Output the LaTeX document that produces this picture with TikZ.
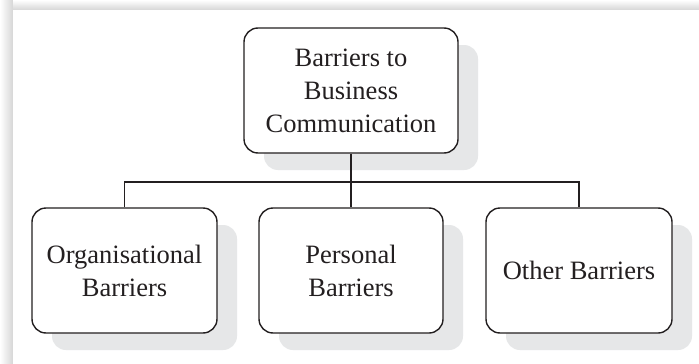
\documentclass[tikz,border=0pt]{standalone}
\usepackage{fontspec}
\setmainfont{Liberation Serif}
\usetikzlibrary{shadows}
\definecolor{shade}{HTML}{E6E7E8}
\definecolor{framegray}{HTML}{D6D6D6}
\definecolor{ink}{HTML}{231F20}
\tikzset{
  barrier/.style={draw=ink, line width=1.4pt, rounded corners=14pt, fill=white,
    align=center, inner sep=0pt, minimum height=125pt, text=ink,
    font=\fontsize{26.5}{33}\selectfont,
    drop shadow={shadow xshift=20pt, shadow yshift=-17pt, fill=shade, opacity=1}},
  link/.style={draw=ink, line width=1.4pt}
}
\begin{document}
\begin{tikzpicture}[x=1pt,y=-1pt]
  \useasboundingbox (0,0) rectangle (699,364);
  % page frame with soft edges
  \shade[left color=white, right color=framegray] (0,0) rectangle (13,364);
  \shade[top color=white, bottom color=framegray] (13,0) rectangle (699,10);
  \fill[white] (13,10) rectangle (699,364);

  % boxes
  \node[barrier, minimum width=214pt] (top) at (351,90.5)
    {Barriers to\\Business\\Communication};
  \node[barrier, minimum width=185pt] (org) at (124.5,270.5)
    {Organisational\\Barriers};
  \node[barrier, minimum width=184pt] (pers) at (351,270.5)
    {Personal\\Barriers};
  \node[barrier, minimum width=186pt] (oth) at (579,270.5)
    {Other Barriers};

  % connectors
  \coordinate (bus) at (351,182);
  \draw[link] (top.south) -- (bus);
  \draw[link] (org.north) |- (bus) -| (oth.north);
  \draw[link] (bus) -- (pers.north);
\end{tikzpicture}
\end{document}
